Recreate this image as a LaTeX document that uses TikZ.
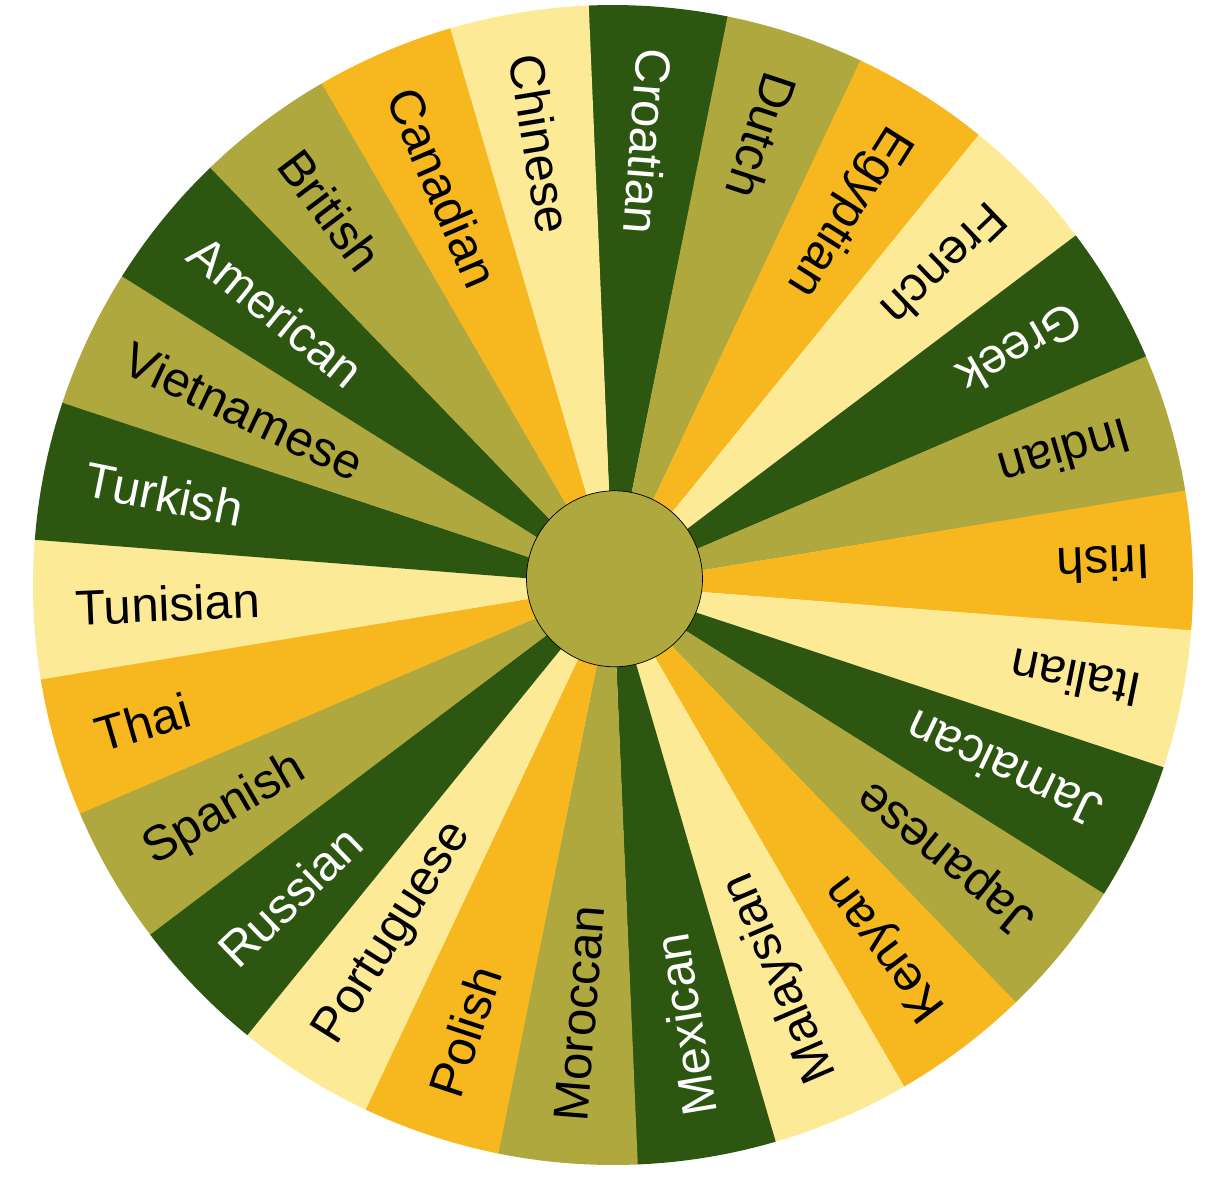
\documentclass[tikz,border=0pt]{standalone}
\usepackage{fontspec}
\setmainfont{Liberation Sans}
\definecolor{wheelgreen}{HTML}{2D5710}
\definecolor{wheelolive}{HTML}{AEA83F}
\definecolor{wheelorange}{HTML}{F7B71E}
\definecolor{wheelyellow}{HTML}{FDEA96}
\begin{document}
\begin{tikzpicture}[font=\fontsize{28}{30}\selectfont]
    \useasboundingbox (-12.26,-12.1) rectangle (12.3,11.7);
    % one slice and one label per entry, clockwise from the top
    \foreach \name/\fc/\tc [count=\i from 0] in {
        Croatian/wheelgreen/white, Dutch/wheelolive/black, Egyptian/wheelorange/black, French/wheelyellow/black,
        Greek/wheelgreen/white, Indian/wheelolive/black, Irish/wheelorange/black, Italian/wheelyellow/black,
        Jamaican/wheelgreen/white, Japanese/wheelolive/black, Kenyan/wheelorange/black, Malaysian/wheelyellow/black,
        Mexican/wheelgreen/white, Moroccan/wheelolive/black, Polish/wheelorange/black, Portuguese/wheelyellow/black,
        Russian/wheelgreen/white, Spanish/wheelolive/black, Thai/wheelorange/black, Tunisian/wheelyellow/black,
        Turkish/wheelgreen/white, Vietnamese/wheelolive/black, American/wheelgreen/white, British/wheelolive/black,
        Canadian/wheelorange/black, Chinese/wheelyellow/black} {
        \pgfmathsetmacro{\mid}{85.5-\i*360/26}
        \fill[\fc] (0,0) -- (\mid+6.95:11.6) arc[start angle=\mid+6.95, end angle=\mid-6.95, radius=11.6] -- cycle;
        \node[anchor=west, inner sep=0pt, rotate=\mid+180, text=\tc] (lbl\i) at (\mid:10.76) {\name};
    }
    
    \node[circle, draw, thin, fill=wheelolive, minimum size=3.52cm] (hub) at (0.03,0.124) {};
\end{tikzpicture}
\end{document}
